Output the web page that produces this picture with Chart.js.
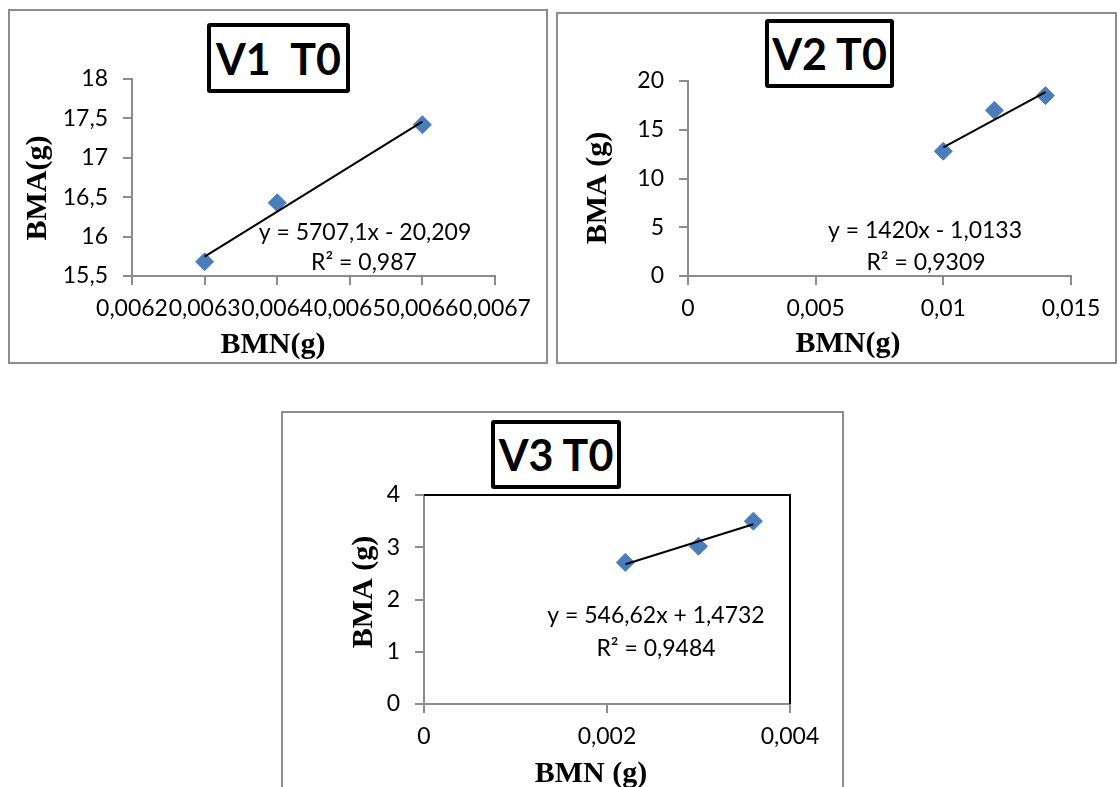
<!DOCTYPE html>
<html>
<head>
<meta charset="utf-8">
<script src="https://cdn.jsdelivr.net/npm/chart.js@4.4.0/dist/chart.umd.min.js"></script>
<style>
  body { margin: 0; width: 1120px; height: 787px; overflow: hidden; background: #fff; position: relative; }
  .panel { position: absolute; box-sizing: border-box; border: 2px solid #8c8c8c; background: #fff; }
  .panel canvas { display: block; }
  .tag { position: absolute; box-sizing: border-box; border: 4px solid #000; border-radius: 3px; background: #fff;
         font: bold 43px Lato, sans-serif; display: flex; align-items: center; justify-content: center; white-space: pre; z-index: 2; }
</style>
</head>
<body>
<div class="panel" style="left:8px;top:9px;width:540px;height:355px"><canvas id="c1" width="536" height="351"></canvas></div>
<div class="panel" style="left:556px;top:12px;width:561px;height:352px"><canvas id="c2" width="557" height="348"></canvas></div>
<div class="panel" style="left:281px;top:411px;width:563px;height:390px"><canvas id="c3" width="559" height="386"></canvas></div>

<div class="tag" style="left:207px;top:23px;width:143px;height:70px">V1  T0</div>
<div class="tag" style="left:765px;top:19px;width:129px;height:69px">V2 T0</div>
<div class="tag" style="left:491px;top:420px;width:130px;height:69px">V3 T0</div>

<script>
// V1 T0
const v1Bmn = [0.0063, 0.0064, 0.0066];
const v1Bma = [15.68, 16.43, 17.42];
const v1XTicks = [0.0062, 0.0063, 0.0064, 0.0065, 0.0066, 0.0067];
const v1YTicks = [15.5, 16, 16.5, 17, 17.5, 18];
const v1Fit = [5707.1, -20.209];
const v1Eq = ["y = 5707,1x - 20,209", "R² = 0,987"];

// V2 T0
const v2Bmn = [0.010, 0.012, 0.014];
const v2Bma = [12.8, 17.0, 18.5];
const v2XTicks = [0, 0.005, 0.01, 0.015];
const v2YTicks = [0, 5, 10, 15, 20];
const v2Fit = [1420, -1.0133];
const v2Eq = ["y = 1420x - 1,0133", "R² = 0,9309"];

// V3 T0
const v3Bmn = [0.0022, 0.003, 0.0036];
const v3Bma = [2.71, 3.02, 3.5];
const v3XTicks = [0, 0.002, 0.004];
const v3YTicks = [0, 1, 2, 3, 4];
const v3Fit = [546.62, 1.4732];
const v3Eq = ["y = 546,62x + 1,4732", "R² = 0,9484"];

const GRAY = "#8c8c8c";
const BLUE = "#4a7ebb";
const TITLE_FONT = 'bold 30px "Liberation Serif", serif';
const NOTE_FONT = "23px Lato, sans-serif";

Chart.defaults.font.family = "Lato, sans-serif";
Chart.defaults.color = "#000";

// comma decimals like the original
const fmt = v => String(parseFloat(v.toFixed(6))).replace(".", ",");

function axis(ticks, pos, size) {
  return {
    type: "linear",
    position: pos,
    min: ticks[0],
    max: ticks[ticks.length - 1],
    afterBuildTicks: s => { s.ticks = ticks.map(v => ({ value: v })); },
    afterFit: s => { if (pos === "left") s.width = size; else s.height = size; },
    grid: { drawOnChartArea: false, drawTicks: true, tickLength: 9, color: GRAY, lineWidth: 2 },
    border: { display: true, color: GRAY, width: 2 },
    ticks: {
      autoSkip: false, maxRotation: 0, minRotation: 0,
      padding: pos === "left" ? 15 : 10,
      font: { size: 23 },
      callback: v => fmt(v)
    }
  };
}

// texts drawn on the canvas: axis titles and trendline labels
function notes(items) {
  return {
    id: "notes",
    afterDraw(chart) {
      const ctx = chart.ctx;
      items.forEach(t => {
        ctx.save();
        ctx.font = t.font;
        ctx.fillStyle = "#000";
        ctx.textAlign = "center";
        ctx.textBaseline = "alphabetic";
        ctx.translate(t.x, t.y);
        if (t.rotate) ctx.rotate(-Math.PI / 2);
        ctx.fillText(t.text, 0, 0);
        ctx.restore();
      });
    }
  };
}

// black top/right edge of the plot area (only on V3)
const frame = {
  id: "frame",
  afterDraw(chart) {
    const { ctx, chartArea: a } = chart;
    ctx.save();
    ctx.strokeStyle = "#000";
    ctx.lineWidth = 2;
    ctx.beginPath();
    ctx.moveTo(a.left, a.top);
    ctx.lineTo(a.right, a.top);
    ctx.lineTo(a.right, a.bottom);
    ctx.stroke();
    ctx.restore();
  }
};

function makeChart(id, xs, ys, xTicks, yTicks, fit, box, texts, extra) {
  const pts = xs.map((x, i) => ({ x: x, y: ys[i] }));
  const x0 = Math.min(...xs), x1 = Math.max(...xs);
  const trend = [x0, x1].map(x => ({ x: x, y: fit[0] * x + fit[1] }));
  return new Chart(document.getElementById(id), {
    type: "scatter",
    data: {
      datasets: [
        { data: trend, showLine: true, borderColor: "#000", borderWidth: 2, pointRadius: 0, order: 0 },
        { data: pts, pointStyle: "rectRot", pointRadius: 9, pointHoverRadius: 9,
          backgroundColor: BLUE, borderColor: BLUE, borderWidth: 1, order: 1 }
      ]
    },
    options: {
      responsive: false,
      animation: false,
      events: [],
      layout: { padding: { top: box.top, right: box.right, left: 0, bottom: 0 } },
      scales: { x: axis(xTicks, "bottom", box.xh), y: axis(yTicks, "left", box.yw) },
      plugins: { legend: { display: false }, tooltip: { enabled: false } }
    },
    plugins: [notes(texts)].concat(extra || [])
  });
}

makeChart("c1", v1Bmn, v1Bma, v1XTicks, v1YTicks, v1Fit,
  { top: 68, right: 51, xh: 86, yw: 122 },
  [
    { text: "BMA(g)", x: 36, y: 177, rotate: true, font: TITLE_FONT },
    { text: "BMN(g)", x: 263, y: 342, font: TITLE_FONT },
    { text: v1Eq[0], x: 355, y: 229, font: NOTE_FONT },
    { text: v1Eq[1], x: 354, y: 259, font: NOTE_FONT }
  ]);

makeChart("c2", v2Bmn, v2Bma, v2XTicks, v2YTicks, v2Fit,
  { top: 67, right: 44, xh: 86, yw: 130 },
  [
    { text: "BMA (g)", x: 48, y: 174, rotate: true, font: TITLE_FONT },
    { text: "BMN(g)", x: 290, y: 338, font: TITLE_FONT },
    { text: v2Eq[0], x: 367, y: 224, font: NOTE_FONT },
    { text: v2Eq[1], x: 368, y: 256, font: NOTE_FONT }
  ]);

makeChart("c3", v3Bmn, v3Bma, v3XTicks, v3YTicks, v3Fit,
  { top: 82, right: 52, xh: 95, yw: 141 },
  [
    { text: "BMA (g)", x: 89, y: 179, rotate: true, font: TITLE_FONT },
    { text: "BMN (g)", x: 308, y: 369, font: TITLE_FONT },
    { text: v3Eq[0], x: 373, y: 210, font: NOTE_FONT },
    { text: v3Eq[1], x: 373, y: 243, font: NOTE_FONT }
  ], [frame]);
</script>
</body>
</html>
